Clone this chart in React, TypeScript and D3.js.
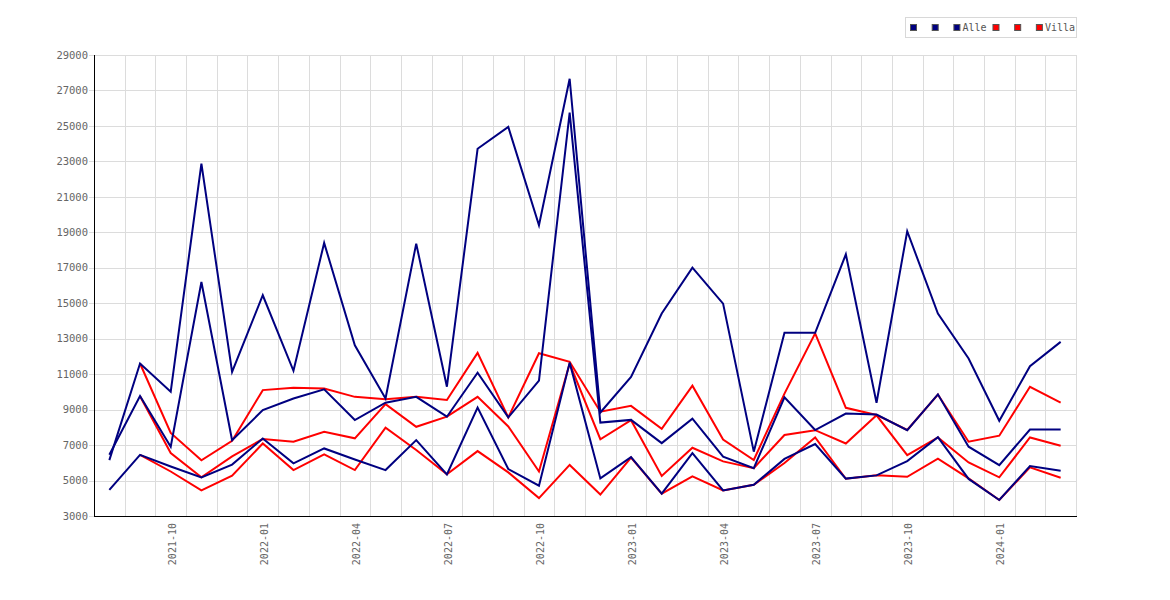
import React, { useEffect } from "react";
import * as d3 from "d3";

const months = [
  "2021-08", "2021-09", "2021-10", "2021-11", "2021-12", "2022-01", "2022-02", "2022-03",
  "2022-04", "2022-05", "2022-06", "2022-07", "2022-08", "2022-09", "2022-10", "2022-11",
  "2022-12", "2023-01", "2023-02", "2023-03", "2023-04", "2023-05", "2023-06", "2023-07",
  "2023-08", "2023-09", "2023-10", "2023-11", "2023-12", "2024-01", "2024-02", "2024-03",
];

const tickLabels = [
  "2021-10", "2022-01", "2022-04", "2022-07", "2022-10",
  "2023-01", "2023-04", "2023-07", "2023-10", "2024-01",
];

const yTicks = [3000, 5000, 7000, 9000, 11000, 13000, 15000, 17000, 19000, 21000, 23000, 25000, 27000, 29000];

const alleHigh = [6150, 11600, 10010, 22870, 11130, 15450, 11190, 18400, 12630, 9630, 18360, 10290, 23710, 24940, 19400, 27660, 8840, 10840, 14420, 17010, 14980, 6630, 13330, 13330, 17760, 9390, 19060, 14420, 11880, 8370, 11450, 12820];
const alleMid = [6450, 9770, 6910, 16200, 7270, 8970, 9630, 10140, 8410, 9390, 9720, 8600, 11080, 8560, 10640, 25750, 8270, 8420, 7110, 8490, 6350, 5700, 9690, 7850, 8780, 8720, 7840, 9860, 6910, 5870, 7880, 7880];
const alleLow = [4470, 6450, 5790, 5170, 5900, 7370, 5970, 6810, 6190, 5590, 7280, 5350, 9120, 5650, 4710, 11650, 5120, 6320, 4260, 6550, 4440, 4760, 6220, 7060, 5110, 5290, 6100, 7440, 5090, 3900, 5820, 5550];

const villaHigh = [null, 11600, 7680, 6140, 7240, 10100, 10230, 10190, 9720, 9590, 9720, 9540, 12200, 8560, 12180, 11700, 8880, 9210, 7920, 10350, 7310, 6160, 9900, 13300, 9100, 8700, 7850, 9850, 7190, 7530, 10290, 9400];
const villaMid = [null, 9750, 6550, 5180, 6360, 7340, 7190, 7750, 7380, 9310, 8030, 8600, 9720, 8050, 5510, 11600, 7330, 8400, 5260, 6850, 6080, 5700, 7570, 7840, 7090, 8680, 6430, 7430, 6020, 5180, 7430, 6960];
const villaLow = [null, 6450, 5510, 4440, 5270, 7090, 5590, 6470, 5590, 7980, 6720, 5350, 6660, 5460, 4010, 5880, 4210, 6300, 4260, 5240, 4440, 4760, 5990, 7430, 5100, 5300, 5210, 6240, 5120, 3900, 5740, 5160];

const NAVY = "#000080";
const RED = "#ff0000";

const seriesList = [
  { label: "", color: NAVY, values: alleHigh },
  { label: "", color: NAVY, values: alleMid },
  { label: "Alle", color: NAVY, values: alleLow },
  { label: "", color: RED, values: villaHigh },
  { label: "", color: RED, values: villaMid },
  { label: "Villa", color: RED, values: villaLow },
];

const FONT = "'DejaVu Sans Mono', monospace";

export default function App() {
  useEffect(() => {
    document.body.style.margin = "0";
  }, []);

  const W = 1170;
  const H = 600;
  const left = 94;
  const right = 1076;
  const top = 55;
  const bottom = 516;

  const x = d3.scaleBand<string>().domain(months).range([left, right]).padding(0);
  const bw = x.bandwidth();
  const cx = (m: string) => (x(m) as number) + bw / 2;
  const y = d3.scaleLinear().domain([3000, 29000]).range([bottom, top]);

  const line = d3
    .line<number | null>()
    .defined((d) => d != null)
    .x((_, i) => cx(months[i]))
    .y((d) => y(d as number));

  // draw red first, navy on top
  const drawOrder = [...seriesList.slice(3), ...seriesList.slice(0, 3)];

  // legend layout
  const legendX = 905;
  const legendY = 17;
  let cursor = legendX + 5;
  const legendItems = seriesList.map((s) => {
    const item = { ...s, x: cursor };
    cursor += s.label ? 9 + s.label.length * 6.02 + 6 : 21.7;
    return item;
  });
  const legendW = right - legendX;

  return (
    <svg width={W} height={H} style={{ display: "block", background: "#fff" }}>
      {/* horizontal grid */}
      {yTicks.map((t) => (
        <line key={"hg" + t} x1={left - 5} x2={right} y1={Math.round(y(t)) + 0.5} y2={Math.round(y(t)) + 0.5} stroke="#dcdcdc" strokeWidth={1} />
      ))}
      {/* vertical grid */}
      {months.map((m) => (
        <line key={"vg" + m} x1={Math.round((x(m) as number) + bw) + 0.5} x2={Math.round((x(m) as number) + bw) + 0.5} y1={top} y2={bottom} stroke="#dcdcdc" strokeWidth={1} />
      ))}
      {/* axes */}
      <line x1={left + 0.5} x2={left + 0.5} y1={top} y2={bottom + 1} stroke="#000" strokeWidth={1} />
      <line x1={left} x2={right + 1} y1={bottom + 0.5} y2={bottom + 0.5} stroke="#000" strokeWidth={1} />

      {/* y labels */}
      {yTicks.map((t) => (
        <text key={"yl" + t} x={88} y={y(t)} dy="0.35em" textAnchor="end" fontFamily={FONT} fontSize={10.5} fill="#666">
          {t}
        </text>
      ))}
      {/* x labels */}
      {tickLabels.map((m) => {
        const px = cx(m) + 1.5;
        return (
          <text key={"xl" + m} transform={`translate(${px},523) rotate(-90)`} dy="0.35em" textAnchor="end" fontFamily={FONT} fontSize={10} fill="#666">
            {m}
          </text>
        );
      })}

      {/* lines */}
      {drawOrder.map((s, i) => (
        <path key={"s" + i} d={line(s.values) || ""} fill="none" stroke={s.color} strokeWidth={2} strokeLinejoin="miter" />
      ))}

      {/* legend */}
      <rect x={legendX + 0.5} y={legendY + 0.5} width={legendW} height={20} fill="#fff" stroke="#d8d8d8" strokeWidth={1} />
      {legendItems.map((it, i) => (
        <g key={"lg" + i}>
          <rect x={it.x + 0.5} y={legendY + 7.5} width={6} height={6} fill={it.color} stroke="#555" strokeWidth={1} />
          {it.label && (
            <text x={it.x + 9} y={legendY + 10.5} dy="0.35em" fontFamily={FONT} fontSize={10} fill="#555">
              {it.label}
            </text>
          )}
        </g>
      ))}
    </svg>
  );
}
